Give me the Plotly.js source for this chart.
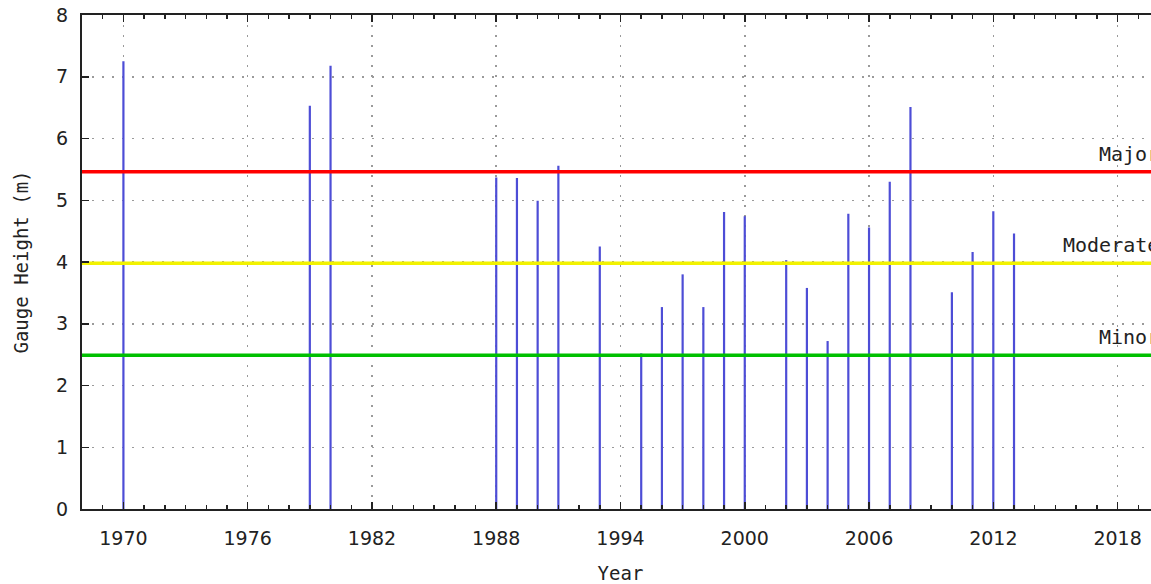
<!DOCTYPE html>
<html>
<head>
<meta charset="utf-8">
<script src="https://cdn.plot.ly/plotly-3.0.1.min.js"></script>
<style>
  html, body { margin: 0; padding: 0; overflow: hidden; background: #fff; width: 1151px; height: 584px; }
  #chart { width: 1200px; height: 584px; }
</style>
</head>
<body>
<div id="chart"></div>
<script>
// Flood peak data (year, gauge height in m)
const years = [1970, 1979, 1980, 1988, 1989, 1990, 1991, 1993, 1995, 1996, 1997, 1998, 1999, 2000,
               2002, 2003, 2004, 2005, 2006, 2007, 2008, 2010, 2011, 2012, 2013];
const heights = [7.25, 6.53, 7.18, 5.37, 5.36, 4.99, 5.56, 4.25, 2.52, 3.27, 3.80, 3.27, 4.81, 4.74,
                 4.03, 3.58, 2.72, 4.78, 4.56, 5.30, 6.51, 3.51, 4.16, 4.82, 4.46];

// Flood classification levels
const levelNames = ["Major", "Moderate", "Minor"];
const levelValues = [5.46, 3.98, 2.49];
const levelColors = ["#ff0000", "#f2f200", "#00c000"];

const xRange = [1968, 2020];
const yRange = [0, 8];
const xTickVals = [1970, 1976, 1982, 1988, 1994, 2000, 2006, 2012, 2018];
const xTickText = xTickVals.map(String);
const yTickVals = [0, 1, 2, 3, 4, 5, 6, 7, 8];

// impulses (vertical lines from 0 to each peak), built from the data arrays
const impulseX = years.flatMap(yr => [yr, yr, null]);
const impulseY = heights.flatMap(h => [0, h, null]);

const traces = [{
  type: "scatter",
  mode: "lines",
  x: impulseX,
  y: impulseY,
  line: { color: "#4d4dd6", width: 2.2 },
  connectgaps: false,
  hoverinfo: "x+y",
  showlegend: false
}];

levelValues.forEach((v, i) => {
  traces.push({
    type: "scatter",
    mode: "lines",
    x: xRange,
    y: [v, v],
    line: { color: levelColors[i], width: 3.5 },
    showlegend: false,
    hoverinfo: "skip"
  });
});

const annotations = levelNames.map((name, i) => ({
  xref: "paper", yref: "y",
  x: 1, y: levelValues[i],
  xanchor: "right", yanchor: "bottom",
  xshift: 2, yshift: 4,
  text: name,
  showarrow: false,
  font: { family: "DejaVu Sans Mono", size: 20, color: "#222" }
}));

const gridDash = "2px,8px";

const layout = {
  width: 1200,
  height: 584,
  margin: { l: 82, r: 41, t: 15, b: 75 },
  paper_bgcolor: "#fff",
  plot_bgcolor: "#fff",
  showlegend: false,
  xaxis: {
    range: xRange,
    tickvals: xTickVals,
    ticktext: xTickText,
    ticks: "inside",
    ticklen: 7,
    tickwidth: 1.5,
    tickcolor: "#222",
    showline: true,
    linecolor: "#222",
    linewidth: 2,
    mirror: "ticks",
    showgrid: true,
    gridcolor: "#9a9a9a",
    gridwidth: 1.5,
    griddash: gridDash,
    zeroline: false,
    ticklabelstandoff: 11,
    tickfont: { family: "DejaVu Sans", size: 19, color: "#222" },
    minor: { dtick: 1, tick0: 1970, ticks: "inside", ticklen: 4, tickwidth: 1.5, tickcolor: "#222", showgrid: false },
    title: { text: "Year", standoff: 23, font: { family: "DejaVu Sans Mono", size: 19, color: "#222" } },
    automargin: false
  },
  yaxis: {
    range: yRange,
    tickvals: yTickVals,
    ticks: "inside",
    ticklen: 7,
    tickwidth: 1.5,
    tickcolor: "#222",
    showline: true,
    linecolor: "#222",
    linewidth: 2,
    mirror: "ticks",
    showgrid: true,
    gridcolor: "#9a9a9a",
    gridwidth: 1.5,
    griddash: gridDash,
    zeroline: false,
    ticklabelstandoff: 8,
    tickfont: { family: "DejaVu Sans", size: 19, color: "#222" },
    title: { text: "Gauge Height (m)", standoff: 22, font: { family: "DejaVu Sans Mono", size: 19, color: "#222" } },
    automargin: false
  },
  annotations: annotations
};

Plotly.newPlot("chart", traces, layout, { displayModeBar: false, staticPlot: true });
</script>
</body>
</html>
